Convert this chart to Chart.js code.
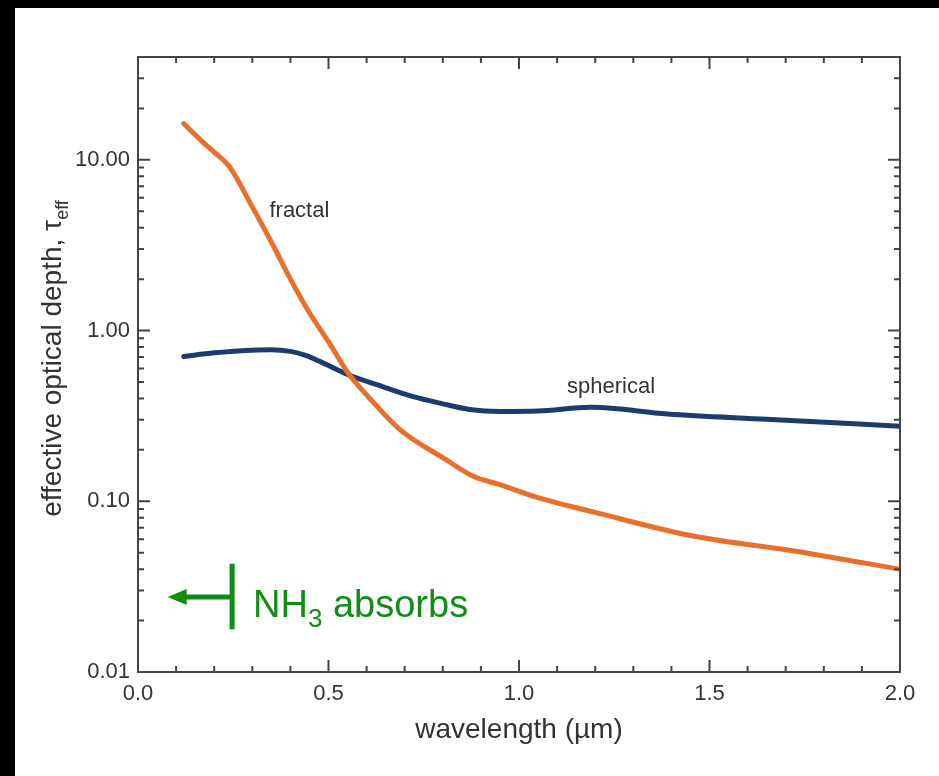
<!DOCTYPE html>
<html lang="en">
<head>
    <meta charset="UTF-8">
    <title>Effective optical depth</title>
    <script src="https://cdn.jsdelivr.net/npm/chart.js@4.4.0/dist/chart.umd.min.js"></script>
    <style>
        body {
            margin: 0;
            background: #000;
        }
        .chart-box {
            position: absolute;
            left: 15px;
            top: 8px;
            width: 924px;
            height: 768px;
            background: #fff;
        }
    </style>
</head>
<body>
    <div class="chart-box">
        <canvas id="depthChart"></canvas>
    </div>

    <script>
        // wavelength (um) vs effective optical depth
        const fractalX = [0.12, 0.17, 0.20, 0.24, 0.30, 0.35, 0.40, 0.45, 0.50, 0.55, 0.60, 0.69, 0.80, 0.88, 0.95, 1.05, 1.20, 1.45, 1.75, 2.00];
        const fractalY = [16.3, 12.7, 11.1, 9.1, 5.3, 3.3, 2.0, 1.27, 0.86, 0.57, 0.42, 0.26, 0.18, 0.14, 0.125, 0.105, 0.086, 0.063, 0.050, 0.040];
        const sphericalX = [0.12, 0.20, 0.28, 0.35, 0.40, 0.44, 0.48, 0.55, 0.64, 0.72, 0.80, 0.87, 0.95, 1.05, 1.19, 1.39, 1.65, 2.00];
        const sphericalY = [0.705, 0.74, 0.765, 0.772, 0.755, 0.715, 0.655, 0.553, 0.471, 0.411, 0.372, 0.345, 0.336, 0.338, 0.355, 0.324, 0.302, 0.275];

        const xMajor = [0.0, 0.5, 1.0, 1.5, 2.0];
        const yMajor = [0.01, 0.1, 1, 10];

        // text labels, placed in data units
        const fractalLabel = { x: 0.345, y: 5.0, text: 'fractal' };
        const sphericalLabel = { x: 1.126, y: 0.47, text: 'spherical' };
        const nh3 = { tipX: 0.078, barX: 0.247, y: 0.0275, barLow: 0.0178, barHigh: 0.043, textX: 0.302, textY: 0.021 };

        const orange = '#e8702c';
        const navy = '#1e3b6f';
        const green = '#118c14';
        const axisColor = '#444';
        const textColor = '#333';
        const fontFamily = '"Liberation Sans", Arial, Helvetica, sans-serif';

        const toPoints = (xs, ys) => xs.map((x, i) => ({ x: x, y: ys[i] }));

        const decorations = {
            id: 'decorations',
            afterDatasetsDraw(chart) {
                const ctx = chart.ctx;
                const xs = chart.scales.x;
                const ys = chart.scales.y;
                const area = chart.chartArea;
                ctx.save();

                // frame + inward ticks on all four sides
                ctx.strokeStyle = axisColor;
                ctx.lineWidth = 2;
                ctx.strokeRect(area.left, area.top, area.right - area.left, area.bottom - area.top);
                ctx.beginPath();
                for (let i = 0; i <= 20; i++) {
                    const v = i / 10;
                    const px = xs.getPixelForValue(v);
                    const len = (i % 5 === 0) ? 12 : 6;
                    ctx.moveTo(px, area.bottom); ctx.lineTo(px, area.bottom - len);
                    ctx.moveTo(px, area.top); ctx.lineTo(px, area.top + len);
                }
                for (let d = -2; d <= 1; d++) {
                    for (let m = 1; m <= 9; m++) {
                        const v = m * Math.pow(10, d);
                        if (v > ys.max) continue;
                        const py = ys.getPixelForValue(v);
                        const len = (m === 1) ? 12 : 6;
                        ctx.moveTo(area.left, py); ctx.lineTo(area.left + len, py);
                        ctx.moveTo(area.right, py); ctx.lineTo(area.right - len, py);
                    }
                }
                ctx.stroke();

                // axis titles
                ctx.fillStyle = textColor;
                ctx.font = '28px ' + fontFamily;
                ctx.textAlign = 'center';
                ctx.textBaseline = 'middle';
                ctx.fillText('wavelength (\u00b5m)', (area.left + area.right) / 2, area.bottom + 58);

                ctx.save();
                ctx.translate(area.left - 87, (area.top + area.bottom) / 2 - 6);
                ctx.rotate(-Math.PI / 2);
                const main = 'effective optical depth, \u03c4';
                ctx.font = '28px ' + fontFamily;
                const wMain = ctx.measureText(main).width;
                ctx.font = '18px ' + fontFamily;
                const wSub = ctx.measureText('eff').width;
                const start = -(wMain + wSub) / 2;
                ctx.textAlign = 'left';
                ctx.textBaseline = 'alphabetic';
                ctx.font = '28px ' + fontFamily;
                ctx.fillText(main, start, 10);
                ctx.font = '18px ' + fontFamily;
                ctx.fillText('eff', start + wMain, 17);
                ctx.restore();

                // curve labels
                ctx.font = '22px ' + fontFamily;
                ctx.textAlign = 'left';
                ctx.textBaseline = 'middle';
                ctx.fillText(fractalLabel.text, xs.getPixelForValue(fractalLabel.x), ys.getPixelForValue(fractalLabel.y));
                ctx.fillText(sphericalLabel.text, xs.getPixelForValue(sphericalLabel.x), ys.getPixelForValue(sphericalLabel.y));

                // NH3 absorbs marker
                const tip = xs.getPixelForValue(nh3.tipX);
                const bar = xs.getPixelForValue(nh3.barX);
                const ay = ys.getPixelForValue(nh3.y);
                ctx.strokeStyle = green;
                ctx.fillStyle = green;
                ctx.lineWidth = 5;
                ctx.beginPath();
                ctx.moveTo(tip + 14, ay); ctx.lineTo(bar, ay);
                ctx.moveTo(bar, ys.getPixelForValue(nh3.barLow)); ctx.lineTo(bar, ys.getPixelForValue(nh3.barHigh));
                ctx.stroke();
                ctx.beginPath();
                ctx.moveTo(tip, ay);
                ctx.lineTo(tip + 19, ay - 8);
                ctx.lineTo(tip + 19, ay + 8);
                ctx.closePath();
                ctx.fill();

                let tx = xs.getPixelForValue(nh3.textX);
                const ty = ys.getPixelForValue(nh3.textY);
                ctx.textBaseline = 'alphabetic';
                ctx.font = '38px ' + fontFamily;
                ctx.fillText('NH', tx, ty);
                tx += ctx.measureText('NH').width;
                ctx.font = '26px ' + fontFamily;
                ctx.fillText('3', tx, ty + 10);
                tx += ctx.measureText('3').width;
                ctx.font = '38px ' + fontFamily;
                ctx.fillText(' absorbs', tx, ty);

                ctx.restore();
            }
        };

        const ctx = document.getElementById('depthChart').getContext('2d');
        const chart = new Chart(ctx, {
            type: 'scatter',
            data: {
                datasets: [
                    {
                        label: 'fractal',
                        data: toPoints(fractalX, fractalY),
                        showLine: true,
                        borderColor: orange,
                        borderWidth: 5,
                        pointRadius: 0,
                        cubicInterpolationMode: 'monotone',
                        borderCapStyle: 'round',
                        borderJoinStyle: 'round'
                    },
                    {
                        label: 'spherical',
                        data: toPoints(sphericalX, sphericalY),
                        showLine: true,
                        borderColor: navy,
                        borderWidth: 5,
                        pointRadius: 0,
                        cubicInterpolationMode: 'monotone',
                        borderCapStyle: 'round'
                    }
                ]
            },
            options: {
                responsive: true,
                maintainAspectRatio: false,
                animation: false,
                layout: {
                    padding: { top: 49, right: 39, left: 0, bottom: 0 }
                },
                plugins: {
                    legend: { display: false },
                    tooltip: { enabled: false }
                },
                scales: {
                    x: {
                        type: 'linear',
                        min: 0,
                        max: 2,
                        afterBuildTicks: (scale) => { scale.ticks = xMajor.map(v => ({ value: v })); },
                        afterFit: (scale) => { scale.height = 104; },
                        grid: { display: false, drawTicks: false },
                        border: { display: true, color: axisColor, width: 2 },
                        ticks: {
                            color: textColor,
                            padding: 9,
                            font: { size: 22, family: fontFamily },
                            callback: (v) => Number(v).toFixed(1)
                        }
                    },
                    y: {
                        type: 'logarithmic',
                        min: 0.01,
                        max: 40,
                        afterBuildTicks: (scale) => { scale.ticks = yMajor.map(v => ({ value: v })); },
                        afterFit: (scale) => { scale.width = 123; },
                        grid: { display: false, drawTicks: false },
                        border: { display: true, color: axisColor, width: 2 },
                        ticks: {
                            color: textColor,
                            padding: 8,
                            font: { size: 22, family: fontFamily },
                            callback: (v) => Number(v).toFixed(2)
                        }
                    }
                }
            },
            plugins: [decorations]
        });
    </script>
</body>
</html>
